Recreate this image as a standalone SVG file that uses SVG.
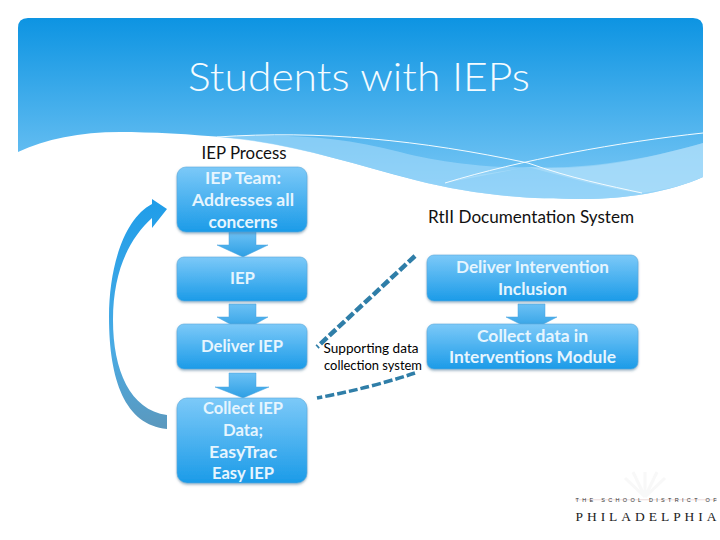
<svg xmlns="http://www.w3.org/2000/svg" width="720" height="540" viewBox="0 0 720 540">
<style>
text{font-family:"Lato","Open Sans",sans-serif;text-anchor:middle}
.b{fill:url(#box);stroke:#5aa9dc;stroke-width:.6;filter:url(#sh)}
.a{fill:url(#arr);stroke:#4aa3dc;stroke-width:.5}
.w{fill:#e6f5fe;font-size:17px;font-weight:700}
.k{fill:#111;font-size:16.5px}
.s{fill:#000;font-size:13.500px}
.d{fill:none;stroke:#2f7ea8;stroke-dasharray:9 3}
</style>
<defs>
<linearGradient id="bg" x1="0" y1="0" x2="0" y2="1"><stop offset="0" stop-color="#0d94e2"/><stop offset="1" stop-color="#7fcaf6"/></linearGradient>
<linearGradient id="box" x1="0" y1="0" x2="0" y2="1"><stop offset="0" stop-color="#7cc9f8"/><stop offset="1" stop-color="#1b9be8"/></linearGradient>
<linearGradient id="arr" x1="0" y1="0" x2="0" y2="1"><stop offset="0" stop-color="#6cc1f5"/><stop offset="1" stop-color="#2d9fe4"/></linearGradient>
<linearGradient id="cur" x1="0" y1="0" x2="0" y2="1"><stop offset="0" stop-color="#1f9de9"/><stop offset=".65" stop-color="#4aabe4"/><stop offset="1" stop-color="#5b98bd"/></linearGradient>
<filter id="sh" x="-5%" y="-5%" width="110%" height="115%"><feDropShadow dx="0" dy="1.5" stdDeviation="1.2" flood-color="#3a6a8a" flood-opacity=".5"/></filter>
</defs>
<g id="banner">
<path d="M18 152V28Q18 18 28 18H693Q703 18 703 28V177C670 192 625 199 583 199C520 199 470 194 415 180C350 163 290 143 231 138C190 134 150 132 120 132C80 132 45 139 18 152Z" fill="url(#bg)"/>
<path d="M217 137C280 133 340 136 400 152C450 165 500 168 528 167C590 172 650 158 703 143V177C670 192 625 199 583 199C520 199 470 194 415 180C350 163 290 143 217 137Z" fill="#a5dbfa" opacity=".6"/>
<path d="M445 183C475 174 500 172 528 167C570 178 610 190 642 193C665 190 685 185 703 177V143C650 158 590 170 528 167Z" fill="#bde5fb" opacity=".45"/>
<path d="M217 137C320 130 420 140 528 163C570 178 610 186 642 193M445 183C520 160 620 142 703 133" fill="none" stroke="#f2fbff" stroke-width="1"/>
<text x="359" y="91" font-size="40" font-weight="300" fill="#f4fbff" textLength="342" lengthAdjust="spacingAndGlyphs">Students with IEPs</text>
</g>
<g id="connectors">
<path d="M229 232H256V245H268L243 257L217 245H229Z" class="a"/>
<path d="M229 304H256V317H268L243 331L217 317H229Z" class="a"/>
<path d="M229 373H256V387H269L243 398L215 387H229Z" class="a"/>
<path d="M518 304H545V317H557L532 330L506 317H518Z" class="a"/>
<path d="M167 429C125 425 109 380 109 317C109 265 125 218 152 204V199L167 209L152 228V218C130 238 113 270 113 320C113 370 130 410 167 415Z" fill="url(#cur)"/>
<path d="M415 256L317 347" class="d" stroke-width="4.500"/>
<path d="M415 373Q370 388 317 398" class="d" stroke-width="3.500" stroke-dasharray="7 2.500"/>
</g>
<g id="iep-process"><text class="k" x="244" y="159" textLength="85" lengthAdjust="spacingAndGlyphs">IEP Process</text></g>
<g id="rtii-title"><text class="k" x="531" y="223" textLength="206" lengthAdjust="spacingAndGlyphs">RtII Documentation System</text></g>
<g id="iep-team"><rect class="b" x="177" y="167" width="130" height="65" rx="9"/><text class="w" x="243" y="184" textLength="76" lengthAdjust="spacingAndGlyphs">IEP Team:</text><text class="w" x="243" y="206" textLength="102" lengthAdjust="spacingAndGlyphs">Addresses all</text><text class="w" x="243" y="228" textLength="69" lengthAdjust="spacingAndGlyphs">concerns</text></g>
<g id="iep"><rect class="b" x="177" y="257" width="130" height="44" rx="7"/><text class="w" x="242.500" y="284" textLength="25" lengthAdjust="spacingAndGlyphs">IEP</text></g>
<g id="deliver-iep"><rect class="b" x="177" y="324" width="130" height="45" rx="7"/><text class="w" x="242" y="352" textLength="82" lengthAdjust="spacingAndGlyphs">Deliver IEP</text></g>
<g id="collect-iep"><rect class="b" x="177" y="398" width="130" height="85" rx="10"/><text class="w" x="243" y="414" textLength="80" lengthAdjust="spacingAndGlyphs">Collect IEP</text><text class="w" x="243" y="436" textLength="40" lengthAdjust="spacingAndGlyphs">Data;</text><text class="w" x="243" y="458" textLength="68" lengthAdjust="spacingAndGlyphs">EasyTrac</text><text class="w" x="243" y="479" textLength="62" lengthAdjust="spacingAndGlyphs">Easy IEP</text></g>
<g id="deliver-intervention"><rect class="b" x="427" y="255" width="211" height="46" rx="7"/><text class="w" x="532.500" y="273" textLength="153" lengthAdjust="spacingAndGlyphs">Deliver Intervention</text><text class="w" x="532.500" y="295" textLength="69" lengthAdjust="spacingAndGlyphs">Inclusion</text></g>
<g id="collect-data"><rect class="b" x="427" y="324" width="211" height="45" rx="7"/><text class="w" x="532.500" y="342" textLength="111" lengthAdjust="spacingAndGlyphs">Collect data  in</text><text class="w" x="532.500" y="363" textLength="167" lengthAdjust="spacingAndGlyphs">Interventions Module</text></g>
<g id="supporting"><text class="s" x="371" y="353" textLength="95" lengthAdjust="spacingAndGlyphs">Supporting data</text><text class="s" x="373" y="370" textLength="98" lengthAdjust="spacingAndGlyphs">collection system</text></g>
<g id="logo">
<path d="M645 497V472M645 497L625 478M645 497L665 478M645 497L633 472M645 497L657 472" stroke="#f8f8f8" stroke-width="3" fill="none"/>
<rect x="575" y="499.500" width="142" height=".7" fill="#e4cccc"/>
<text x="646" y="502" font-size="5.500" fill="#333" textLength="141" style="font-family:'Liberation Sans',sans-serif">THE SCHOOL DISTRICT OF</text>
<text x="646" y="521" font-size="13.500" fill="#222" textLength="141" style="font-family:'Liberation Serif',serif">PHILADELPHIA</text>
</g>
</svg>
